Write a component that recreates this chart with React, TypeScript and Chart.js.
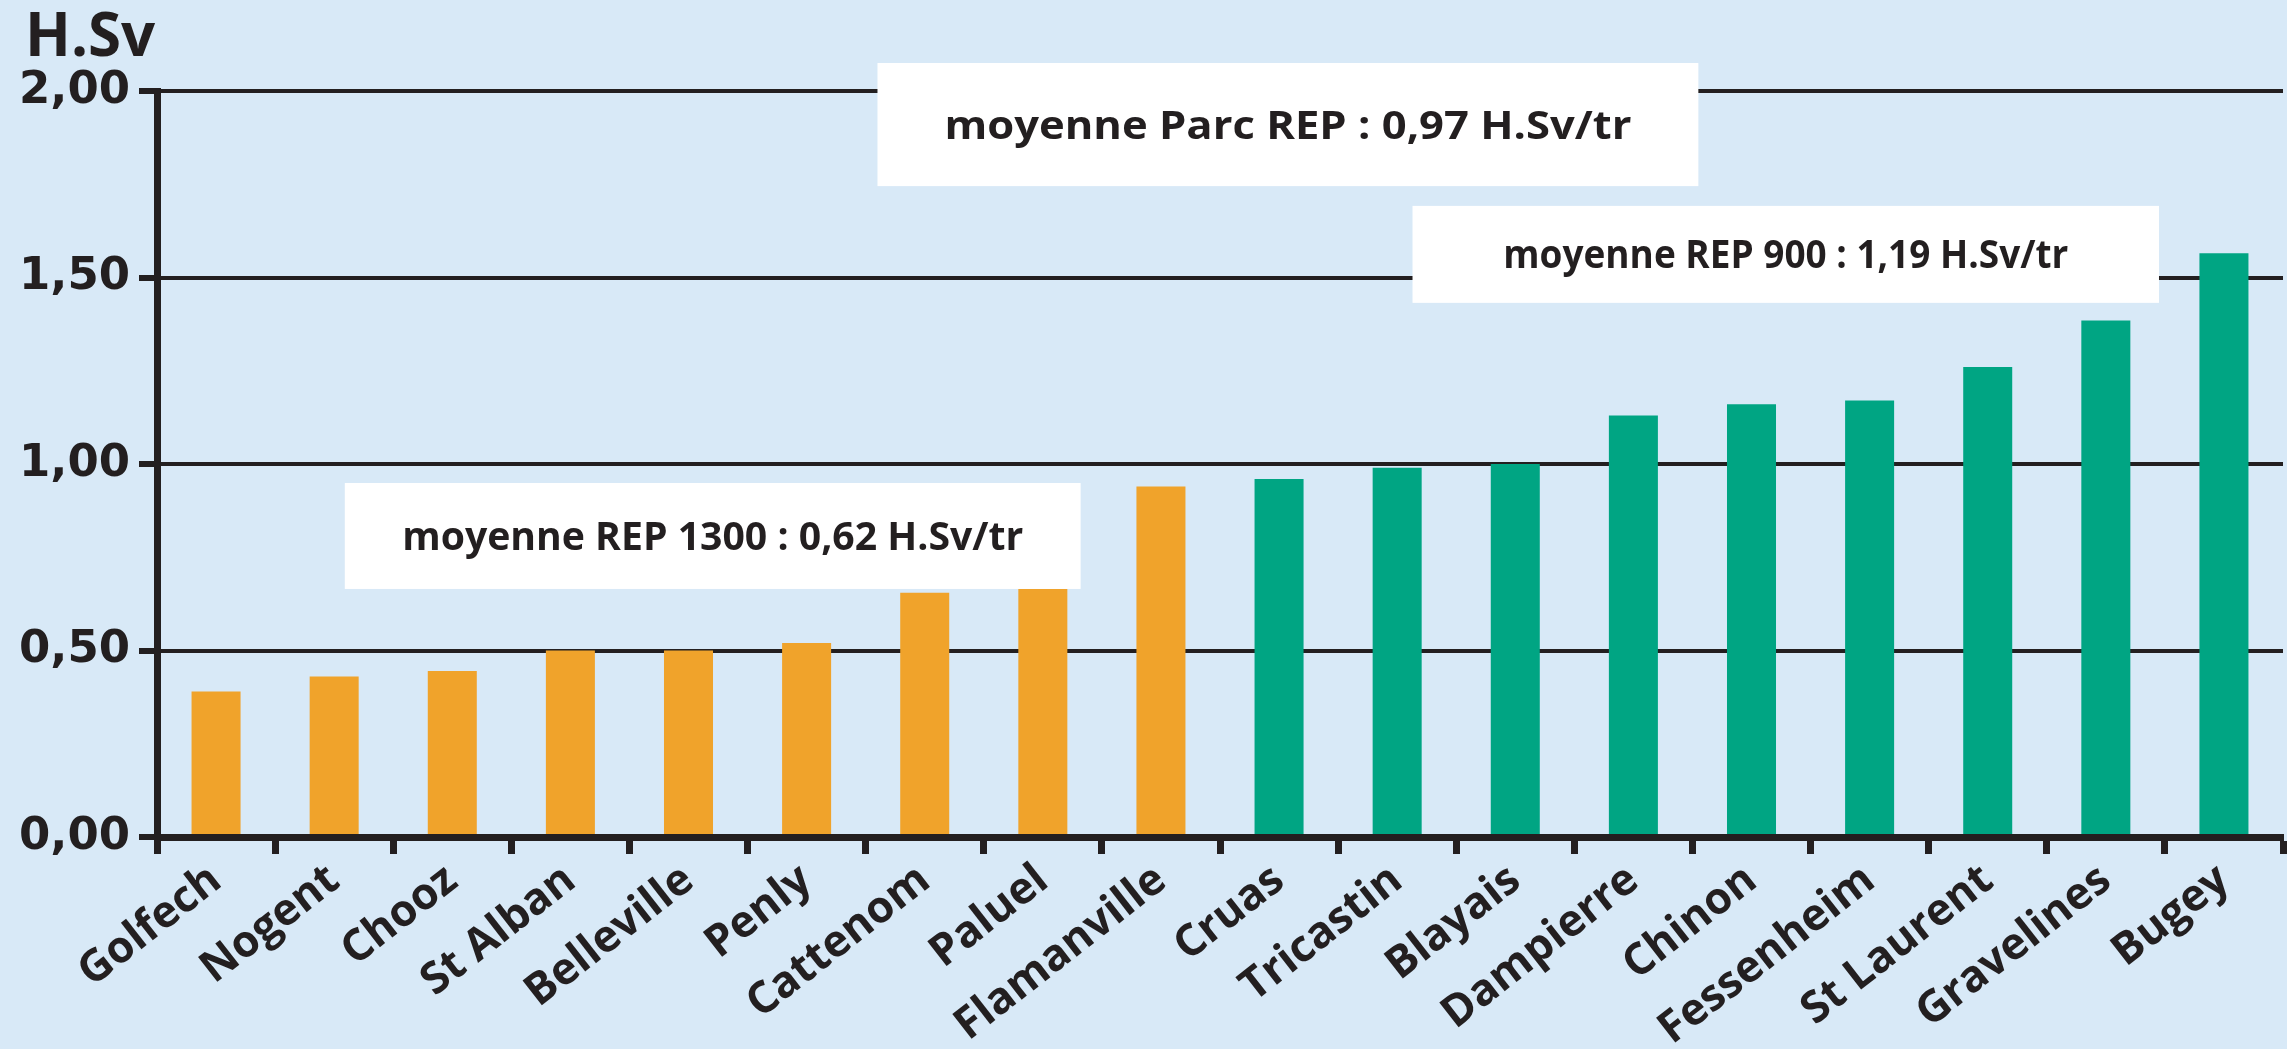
import React, { useEffect, useRef } from "react";
import { Chart, registerables } from "chart.js";

Chart.register(...registerables);

// ---- Data ----
const categories = [
  "Golfech", "Nogent", "Chooz", "St Alban", "Belleville", "Penly", "Cattenom", "Paluel", "Flamanville",
  "Cruas", "Tricastin", "Blayais", "Dampierre", "Chinon", "Fessenheim", "St Laurent", "Gravelines", "Bugey",
];
const doseValues = [
  0.39, 0.43, 0.445, 0.50, 0.50, 0.52, 0.655, 0.665, 0.94,
  0.96, 0.99, 1.00, 1.13, 1.16, 1.17, 1.26, 1.385, 1.565,
];
const reactorSeries = [
  "REP 1300", "REP 1300", "REP 1300", "REP 1300", "REP 1300", "REP 1300", "REP 1300", "REP 1300", "REP 1300",
  "REP 900", "REP 900", "REP 900", "REP 900", "REP 900", "REP 900", "REP 900", "REP 900", "REP 900",
];
const yTickValues = [0, 0.5, 1, 1.5, 2];
const unitLabel = "H.Sv";
const noteTexts = [
  "moyenne Parc REP : 0,97 H.Sv/tr",
  "moyenne REP 900 : 1,19 H.Sv/tr",
  "moyenne REP 1300 : 0,62 H.Sv/tr",
];

// ---- Layout / style ----
const DARK = "#231F20";
const BG = "#D8E9F7";
const seriesColors: Record<string, string> = { "REP 1300": "#F0A32B", "REP 900": "#00A583" };
// note boxes in scale units (category index, value)
const noteLayout = [
  { x0: 5.6, x1: 12.55, yTop: 2.075, yBottom: 1.745, textWidth: 687 },
  { x0: 10.13, x1: 16.45, yTop: 1.692, yBottom: 1.432, textWidth: 565 },
  { x0: 1.09, x1: 7.32, yTop: 0.949, yBottom: 0.665, textWidth: 621 },
];

const W = 2287;
const H = 1049;

const notesPlugin = {
  id: "notes",
  beforeDatasetsDraw(chart: any) {
    const ctx = chart.ctx;
    const xs = chart.scales.x;
    const ys = chart.scales.y;
    ctx.save();
    noteTexts.forEach((t, i) => {
      const l = noteLayout[i];
      const left = xs.getPixelForValue(l.x0);
      const right = xs.getPixelForValue(l.x1);
      const top = ys.getPixelForValue(l.yTop);
      const bottom = ys.getPixelForValue(l.yBottom);
      ctx.fillStyle = "#FFFFFF";
      ctx.fillRect(left, top, right - left, bottom - top);
      ctx.font = "bold 40px 'Open Sans'";
      ctx.fillStyle = DARK;
      ctx.textAlign = "center";
      ctx.textBaseline = "alphabetic";
      const measured = ctx.measureText(t).width;
      const sx = l.textWidth / measured;
      const cx = (left + right) / 2;
      const cy = (top + bottom) / 2 + 14;
      ctx.save();
      ctx.translate(cx, cy);
      ctx.scale(sx, 1);
      ctx.fillText(t, 0, 0);
      ctx.restore();
    });
    ctx.restore();
  },
  afterDraw(chart: any) {
    const ctx = chart.ctx;
    ctx.save();
    ctx.font = "bold 60px 'Open Sans'";
    ctx.fillStyle = DARK;
    ctx.textAlign = "left";
    ctx.textBaseline = "alphabetic";
    ctx.fillText(unitLabel, 25, 56);
    ctx.restore();
  },
};

export default function App() {
  const canvasRef = useRef<HTMLCanvasElement | null>(null);

  useEffect(() => {
    if (!canvasRef.current) return;
    const chart = new Chart(canvasRef.current, {
      type: "bar",
      data: {
        labels: categories,
        datasets: [
          {
            data: doseValues,
            backgroundColor: reactorSeries.map((s) => seriesColors[s]),
            borderWidth: 0,
            barPercentage: 0.415,
            categoryPercentage: 1,
          },
        ],
      },
      options: {
        responsive: false,
        animation: false,
        devicePixelRatio: 1,
        layout: { padding: { top: 91, right: 4, left: 0, bottom: 0 } },
        plugins: { legend: { display: false }, tooltip: { enabled: false } },
        scales: {
          x: {
            grid: {
              display: true,
              drawOnChartArea: false,
              drawTicks: true,
              tickLength: 17,
              tickWidth: 7,
              tickColor: DARK,
              offset: true,
            },
            border: { display: true, color: DARK, width: 7, z: 1 },
            ticks: {
              color: DARK,
              font: { family: "'Open Sans'", weight: "bold", size: 44 },
              minRotation: 38,
              maxRotation: 38,
              autoSkip: false,
              padding: 0,
            },
            afterFit: (s: any) => {
              s.height = H - 837;
            },
          },
          y: {
            min: 0,
            max: 2,
            afterBuildTicks: (s: any) => {
              s.ticks = yTickValues.map((v) => ({ value: v }));
            },
            ticks: {
              color: DARK,
              padding: 9,
              font: { family: "'DejaVu Sans'", weight: "bold", size: 45 },
              callback: (v: any) => Number(v).toFixed(2).replace(".", ","),
            },
            grid: {
              color: DARK,
              lineWidth: 4,
              tickLength: 18,
              tickWidth: 6,
              tickColor: DARK,
            },
            border: { display: true, color: DARK, width: 7, z: 1 },
            afterFit: (s: any) => {
              s.width = 157;
            },
          },
        },
      },
      plugins: [notesPlugin],
    } as any);
    return () => chart.destroy();
  }, []);

  return (
    <div style={{ position: "fixed", left: 0, top: 0, width: W, height: H, background: BG }}>
      <canvas ref={canvasRef} width={W} height={H} style={{ display: "block", width: W, height: H }} />
    </div>
  );
}
